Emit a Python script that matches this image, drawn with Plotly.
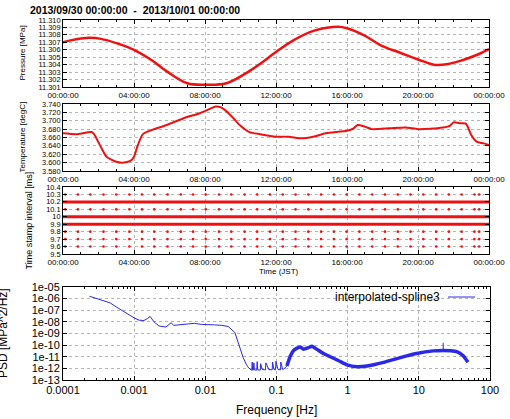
import plotly.graph_objects as go

W, H = 510, 419

# ---------------- data ----------------
title_text = "2013/09/30 00:00:00  -  2013/10/01 00:00:00"
time_ticks = [0, 4, 8, 12, 16, 20, 24]
time_labels = ["00:00:00", "04:00:00", "08:00:00", "12:00:00", "16:00:00", "20:00:00", "00:00:00"]

pres_hours = [0.0, 0.5, 1.0, 1.5, 2.07, 3.0, 4.0, 5.0, 5.85, 7.0, 8.0, 9.2, 10.47, 11.03, 12.0,
              13.0, 14.2, 15.5, 16.0, 17.0, 17.9, 19.0, 20.0, 20.9, 21.7, 22.5, 23.3, 24.0]
pres_vals = [11.3070, 11.3073, 11.3075, 11.3076, 11.3075, 11.3069, 11.3060, 11.3046, 11.3031, 11.3015,
             11.3013, 11.3015, 11.3031, 11.3040, 11.3057, 11.3073, 11.3086, 11.3091, 11.3089, 11.3079,
             11.3066, 11.3056, 11.3047, 11.3040, 11.3041, 11.3046, 11.3053, 11.3061]

temp_hours = [0.0, 0.75, 1.6, 1.75, 2.1, 2.45, 3.0, 3.35, 3.8, 4.0, 4.2, 4.5, 5.0, 5.85, 6.8, 7.7,
              8.3, 8.6, 8.9, 9.2, 9.6, 10.0, 10.5, 11.1, 12.0, 12.7, 13.45, 14.1, 14.8, 16.0,
              16.35, 16.6, 17.0, 17.4, 18.4, 19.3, 20.0, 20.7, 21.4, 21.8, 22.0, 22.4, 22.7, 23.0,
              23.3, 23.7, 24.0]
temp_vals = [3.670, 3.668, 3.673, 3.668, 3.640, 3.614, 3.602, 3.600, 3.604, 3.614, 3.640, 3.668, 3.678,
             3.690, 3.706, 3.718, 3.729, 3.734, 3.732, 3.723, 3.706, 3.688, 3.673, 3.668, 3.662, 3.662,
             3.658, 3.662, 3.670, 3.676, 3.681, 3.690, 3.686, 3.680, 3.682, 3.684, 3.680, 3.681, 3.684,
             3.688, 3.696, 3.694, 3.693, 3.666, 3.650, 3.646, 3.642]

interval_levels = [10.2, 10.0, 9.9]
interval_span = [0, 24]
dot_levels = [10.3, 10.1, 9.8, 9.7, 9.6]
dot_hours = [0.13, 0.84, 1.54, 2.28, 3.0, 3.74, 4.45, 5.14, 5.89, 6.64, 7.33, 8.04, 8.79, 9.48,
             10.23, 10.94, 11.66, 12.38, 13.1, 13.82, 14.54, 15.26, 15.98, 16.7, 17.42, 18.14,
             18.86, 19.58, 20.3, 21.02, 21.74, 22.46, 23.18, 23.45]
interval_ticks = [9.5, 9.6, 9.7, 9.8, 9.9, 10.0, 10.1, 10.2, 10.3, 10.4]
interval_labels = ["9.5", "9.6", "9.7", "9.8", "9.9", "10", "10.1", "10.2", "10.3", "10.4"]

# PSD, low-frequency thin part
psd_freq_low = [2.35e-4, 3.3e-4, 4.6e-4, 5.7e-4, 7.9e-4, 1.0e-3, 1.17e-3, 1.37e-3, 1.55e-3, 1.67e-3,
                1.9e-3, 2.24e-3, 2.8e-3, 3.1e-3, 3.3e-3, 3.6e-3, 4.5e-3, 5.6e-3, 7.0e-3, 8.8e-3,
                1.1e-2, 1.35e-2, 1.7e-2, 2.1e-2, 2.6e-2, 2.97e-2, 3.4e-2, 3.8e-2, 4.1e-2, 4.5e-2,
                4.56e-2, 4.62e-2, 4.75e-2, 4.8e-2, 4.9e-2, 5.28e-2, 5.35e-2, 5.45e-2, 5.91e-2, 5.98e-2,
                6.3e-2, 7.0e-2, 7.1e-2, 7.8e-2, 8.7e-2, 8.8e-2, 9.2e-2, 9.7e-2, 9.8e-2, 1.05e-1,
                1.14e-1, 1.15e-1, 1.22e-1, 1.27e-1, 1.4e-1]
psd_val_low = [1.6e-6, 8.0e-7, 4.3e-7, 1.8e-7, 5.0e-8, 2.2e-8, 1.4e-8, 1.3e-8, 2.0e-8, 3.0e-8,
               1.0e-8, 4.4e-9, 3.6e-9, 6.0e-9, 8.5e-9, 5.0e-9, 5.5e-9, 6.9e-9, 7.5e-9, 6.0e-9,
               6.0e-9, 5.5e-9, 5.0e-9, 4.0e-9, 1.2e-9, 1.2e-10, 8.5e-12, 2.0e-12, 1.0e-12, 7.0e-13,
               3.5e-12, 7.0e-13, 7.5e-13, 3.0e-12, 7.5e-13, 7.0e-13, 3.8e-12, 7.5e-13, 7.0e-13, 2.5e-12,
               8.0e-13, 7.5e-13, 3.0e-12, 8.0e-13, 7.5e-13, 3.5e-12, 8.0e-13, 7.5e-13, 4.0e-12, 8.0e-13,
               7.5e-13, 3.5e-12, 8.0e-13, 9.0e-13, 1.6e-12]
# PSD, high-frequency noisy band
psd_freq_high = [1.4e-1, 1.57e-1, 1.75e-1, 1.95e-1, 2.17e-1, 2.4e-1, 2.8e-1, 3.15e-1, 3.7e-1, 4.5e-1,
                 5.7e-1, 7.5e-1, 9.8e-1, 1.35, 1.87, 3.2, 5.5, 9.3, 16.0, 22.0, 28.0,
                 34.0, 42.0, 49.0]
psd_val_high = [1.6e-12, 1.2e-11, 3.6e-11, 5.5e-11, 6.9e-11, 4.5e-11, 6.0e-11, 8.0e-11, 4.3e-11, 2.0e-11,
                1.0e-11, 4.5e-12, 2.0e-12, 1.4e-12, 1.6e-12, 3.3e-12, 8.5e-12, 1.9e-11, 3.2e-11, 3.5e-11,
                3.3e-11, 2.8e-11, 1.2e-11, 3.3e-12]
# single spike near 22 Hz
psd_spike_freq = [22.0, 22.0]
psd_spike_val = [3.5e-11, 1.6e-10]

psd_yticks = [1e-13, 1e-12, 1e-11, 1e-10, 1e-9, 1e-8, 1e-7, 1e-6, 1e-5]
psd_ylabels = ["1e-13", "1e-12", "1e-11", "1e-10", "1e-09", "1e-08", "1e-07", "1e-06", "1e-05"]
psd_xticks = [1e-4, 1e-3, 1e-2, 1e-1, 1, 10, 100]
psd_xlabels = ["0.0001", "0.001", "0.01", "0.1", "1", "10", "100"]
legend_label = "interpolated-spline3"

# ---------------- layout helpers ----------------
def px_x(x):
    return x / W

def px_y(y):
    return 1 - y / H

FONT = "Liberation Sans, Arial, sans-serif"
RED = "#ee1111"
BLUE = "#2a2ae6"

def base_axis(**kw):
    d = dict(showline=True, linecolor="black", linewidth=1, mirror="allticks",
             ticks="inside", ticklen=4, tickcolor="black", tickwidth=1,
             showgrid=True, gridcolor="#b4b4b4", griddash="dot", gridwidth=1,
             zeroline=False, automargin=False,
             tickfont=dict(family=FONT, size=8, color="black"))
    d.update(kw)
    return d

xdom = [px_x(63), px_x(489)]
panels_y = [(20, 87), (104, 171), (187, 254)]

fig = go.Figure()

# Panel 1: pressure
fig.add_trace(go.Scatter(x=pres_hours, y=pres_vals, mode="lines", line=dict(color=RED, width=2.5, shape="spline"),
                         xaxis="x", yaxis="y", showlegend=False))
# Panel 2: temperature
fig.add_trace(go.Scatter(x=temp_hours, y=temp_vals, mode="lines", line=dict(color=RED, width=2, shape="spline", smoothing=0.6),
                         xaxis="x2", yaxis="y2", showlegend=False))
# Panel 3: time stamp interval
for lv in interval_levels:
    fig.add_trace(go.Scatter(x=interval_span, y=[lv, lv], mode="lines", line=dict(color=RED, width=3),
                             xaxis="x3", yaxis="y3", showlegend=False))
for lv in dot_levels:
    fig.add_trace(go.Scatter(x=dot_hours, y=[lv] * len(dot_hours), mode="markers",
                             marker=dict(color=RED, size=2.6, symbol="circle"),
                             xaxis="x3", yaxis="y3", showlegend=False))
# Panel 4: PSD
fig.add_trace(go.Scatter(x=psd_freq_low, y=psd_val_low, mode="lines", line=dict(color=BLUE, width=1),
                         xaxis="x4", yaxis="y4", showlegend=False))
fig.add_trace(go.Scatter(x=psd_freq_high, y=psd_val_high, mode="lines", line=dict(color=BLUE, width=3.5, shape="spline", smoothing=0.5),
                         xaxis="x4", yaxis="y4", showlegend=False))
fig.add_trace(go.Scatter(x=psd_spike_freq, y=psd_spike_val, mode="lines", line=dict(color=BLUE, width=1),
                         xaxis="x4", yaxis="y4", showlegend=False))

minor_time = dict(ticks="inside", ticklen=2, tickcolor="black", showgrid=False,
                  tickmode="array", tickvals=[h for h in range(25) if h % 4])

layout = dict(width=W, height=H, margin=dict(l=0, r=0, t=0, b=0, pad=0, autoexpand=False),
              paper_bgcolor="white", plot_bgcolor="white", showlegend=False,
              font=dict(family=FONT, color="black"))

ydefs = [
    dict(range=[11.301, 11.310], tickmode="array",
         tickvals=[11.301 + 0.001 * i for i in range(10)],
         ticktext=["%.3f" % (11.301 + 0.001 * i) for i in range(10)]),
    dict(range=[3.58, 3.74], tickmode="array",
         tickvals=[3.58 + 0.02 * i for i in range(9)],
         ticktext=["%.3f" % (3.58 + 0.02 * i) for i in range(9)]),
    dict(range=[9.5, 10.4], tickmode="array", tickvals=interval_ticks, ticktext=interval_labels),
]
for i, ((top, bot), yd) in enumerate(zip(panels_y, ydefs)):
    sx = "" if i == 0 else str(i + 1)
    layout["xaxis" + sx] = base_axis(domain=xdom, range=[0, 24], anchor="y" + sx,
                                     tickmode="array", tickvals=time_ticks, ticktext=time_labels,
                                     minor=minor_time)
    layout["yaxis" + sx] = base_axis(domain=[px_y(bot), px_y(top)], anchor="x" + sx,
                                     tickfont=dict(family=FONT, size=7.4, color="black"), **yd)

psd_minor = []
for e in range(-4, 2):
    for m in range(2, 10):
        psd_minor.append(m * 10 ** e)
layout["xaxis4"] = base_axis(domain=[px_x(63), px_x(490)], type="log", range=[-4, 2], anchor="y4",
                             tickmode="array", tickvals=psd_xticks, ticktext=psd_xlabels,
                             tickfont=dict(family=FONT, size=11, color="black"),
                             minor=dict(ticks="inside", ticklen=2, tickcolor="black", showgrid=False,
                                        tickmode="array", tickvals=psd_minor))
layout["yaxis4"] = base_axis(domain=[px_y(380), px_y(287)], type="log", range=[-13, -5], anchor="x4",
                             tickmode="array", tickvals=psd_yticks, ticktext=psd_ylabels,
                             tickfont=dict(family=FONT, size=11, color="black"))

anns = [
    dict(text="<b>" + title_text + "</b>", x=px_x(28), y=px_y(10), xanchor="left", yanchor="middle",
         font=dict(size=10.5)),
    dict(text="Pressure [MPa]", x=px_x(22), y=px_y(53.5), textangle=-90, font=dict(size=8)),
    dict(text="Temperature [degC]", x=px_x(22), y=px_y(137.5), textangle=-90, font=dict(size=8)),
    dict(text="Time stamp interval [ms]", x=px_x(28), y=px_y(220.5), textangle=-90, font=dict(size=9)),
    dict(text="Time (JST)", x=px_x(279), y=px_y(271), font=dict(size=8)),
    dict(text="Frequency [Hz]", x=px_x(276), y=px_y(410), font=dict(size=12)),
    dict(text="PSD [MPa^2/Hz]", x=px_x(3), y=px_y(333), textangle=-90, font=dict(size=12)),
    dict(text=legend_label, x=px_x(442), y=px_y(297), xanchor="right", yanchor="middle", font=dict(size=12)),
]
for a in anns:
    a.setdefault("xanchor", "center")
    a.setdefault("yanchor", "middle")
    a.update(xref="paper", yref="paper", showarrow=False)
layout["annotations"] = anns
layout["shapes"] = [dict(type="line", xref="paper", yref="paper", x0=px_x(448), x1=px_x(475),
                         y0=px_y(297), y1=px_y(297), line=dict(color=BLUE, width=1))]

fig.update_layout(**layout)
fig.write_html("out.html")
